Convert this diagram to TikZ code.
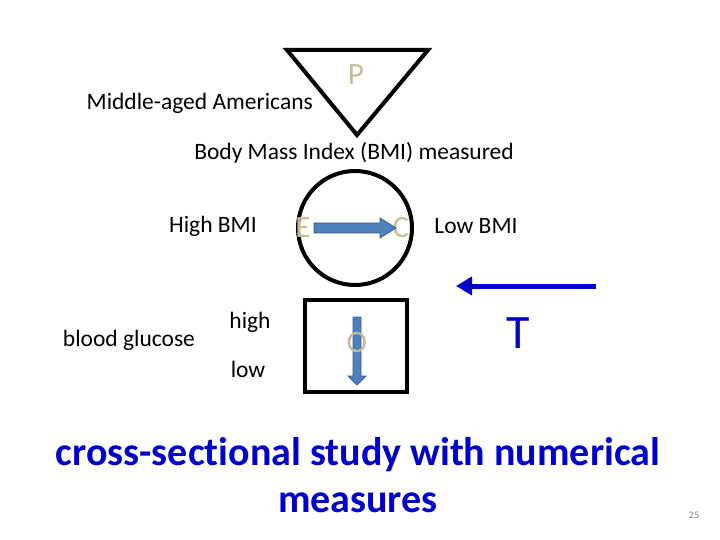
\documentclass[tikz,border=0pt]{standalone}
\usepackage{fontspec}
\setmainfont[Ligatures=NoCommon]{Carlito}
\usetikzlibrary{arrows.meta}
\definecolor{tan}{RGB}{196,189,151}
\definecolor{arrfill}{RGB}{79,129,189}
\definecolor{arrline}{RGB}{56,93,138}
\definecolor{tblue}{RGB}{0,0,204}
\begin{document}
\begin{tikzpicture}[x=1pt,y=-1pt,
  lbl/.style={font=\fontsize{23.5}{28}\selectfont, inner sep=0pt},
  letter/.style={font=\fontsize{31}{36}\selectfont, text=tan, inner sep=0pt},
  shapeline/.style={draw=black, line width=4pt},
  blockarrow/.style={fill=arrfill, draw=arrline, line width=0.8pt}]
\useasboundingbox (0,0) rectangle (720,540);
% triangle P
\coordinate (tl) at (287,50);
\coordinate (tr) at (428,50);
\coordinate (tb) at (357,135);
\draw[shapeline, line join=miter] (tl) -- (tr) -- (tb) -- cycle;
\node[letter] (P) at (356,75) {P};
\node[lbl, anchor=east] (mid) at (313,103) {Middle-aged Americans};
\node[lbl] (bmi) at (354,153) {Body Mass Index (BMI) measured};
% circle
\node[shapeline, circle, minimum size=114pt, inner sep=0pt] (circ) at (355,228) {};
\node[letter] (E) at (303,228) {E};
\node[letter] (C) at (401,228) {C};
\node[lbl] (high) at (213,226) {High BMI};
\node[lbl] (lowbmi) at (476,226) {Low BMI};
% E -> C block arrow
\draw[blockarrow] (314,223) -- (380,223) -- (380,218) -- (396,228) -- (380,238) -- (380,233) -- (314,233) -- cycle;
% box O
\node[shapeline, rectangle, minimum width=102pt, minimum height=92pt, inner sep=0pt] (box) at (356,346) {};
\draw[blockarrow] (353,317) -- (361,317) -- (361,376) -- (366,376) -- (357,385) -- (348,376) -- (353,376) -- cycle;
\node[letter] (O) at (357,343) {O};
\node[lbl] (bg) at (129,340) {blood glucose};
\node[lbl] (hi) at (250,322) {high};
\node[lbl] (lo) at (248,369) {low};
% T arrow
\coordinate (ts) at (596,286);
\coordinate (te) at (456,286);
\draw[tblue, line width=5pt, -{Triangle[length=16pt,width=18pt]}] (ts) -- (te);
\node[font=\fontsize{48}{52}\selectfont, text=tblue, inner sep=0pt] (T) at (518,333) {T};
% title
\node[font=\bfseries\fontsize{40}{47}\selectfont, text=tblue, align=center, inner sep=0pt] (title) at (358,475) {cross-sectional study with numerical\\measures};
\node[font=\fontsize{10}{12}\selectfont, text=gray, inner sep=0pt] (pg) at (694,515) {25};
\end{tikzpicture}
\end{document}
